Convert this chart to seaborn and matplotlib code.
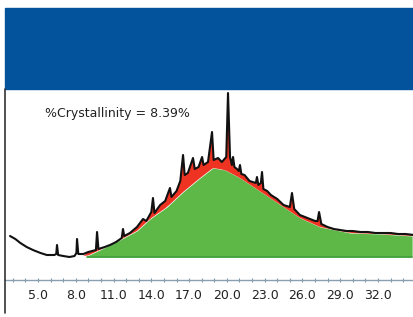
import numpy as np
import matplotlib
matplotlib.use("Agg")
import matplotlib.pyplot as plt
from matplotlib.lines import Line2D
from matplotlib.patches import Rectangle
import seaborn as sns

# measured diffraction pattern (2-theta, intensity)
two_theta = [2.78, 3.2, 3.6, 4.1, 4.6, 5.2, 5.7, 6.3, 6.45, 6.51, 6.6, 7.0, 7.5, 7.9,
             8.05, 8.1, 8.2, 8.6, 9.0, 9.6, 9.69, 9.8, 10.3, 10.72, 11.2, 11.65, 11.75,
             11.85, 12.3, 12.86, 13.34, 13.6, 14.0, 14.13, 14.25, 14.7, 15.1, 15.48,
             15.6, 16.0, 16.3, 16.52, 16.65, 16.9, 17.31, 17.45, 17.75, 18.03, 18.15,
             18.5, 18.82, 18.95, 19.3, 19.6, 19.95, 20.09, 20.25, 20.4, 20.49, 20.6,
             20.8, 20.95, 21.04, 21.15, 21.4, 21.8, 22.3, 22.39, 22.5, 22.7, 22.79,
             22.9, 23.2, 23.5, 24.0, 24.5, 25.0, 25.17, 25.35, 25.8, 26.2, 26.6, 27.0,
             27.2, 27.32, 27.5, 28.0, 28.5, 29.0, 29.5, 30.0, 30.6, 31.2, 31.8, 32.4,
             33.0, 33.6, 34.2, 34.86]
intensity = [21, 18, 14, 10, 7, 4, 2, 2, 3, 12, 2, 1, 0, 1,
             4, 18, 3, 3, 5, 7, 25, 8, 10, 12, 15, 19, 28,
             21, 24, 30, 38, 36, 45, 59, 44, 52, 56, 69,
             60, 66, 76, 102, 82, 84, 99, 88, 90, 100, 92,
             95, 125, 97, 99, 95, 100, 164, 100, 92, 100, 90,
             88, 86, 92, 83, 82, 76, 74, 80, 72, 74, 85,
             68, 66, 62, 58, 52, 50, 64, 48, 42, 40, 38, 36,
             36, 45, 33, 30, 28, 27, 26, 26, 25, 25, 24, 24,
             24, 23, 23, 22]

# amorphous hump
amorph_theta = [8.89, 9.92, 11.51, 12.86, 13.90, 15.25, 16.52, 17.87, 18.90, 19.85,
                21.04, 22.24, 23.43, 24.62, 25.81, 27.40, 29.78, 32.16, 34.71]
amorph_int = [1, 7, 17, 26, 38, 50, 65, 79, 89, 87,
              79, 69, 59, 49, 39, 30, 24, 23, 21]

tick_major = [5, 8, 11, 14, 17, 20, 23, 26, 29, 32]
label_text = "%Crystallinity = 8.39%"

sns.set_style("white")
plt.rcParams['font.family'] = ['DejaVu Sans']

fig = plt.figure(figsize=(4.14, 3.17), dpi=100)
W, H = 414, 317

# blue header band and left rule
fig.add_artist(Rectangle((5 / W, 1 - 89 / H), 1 - 5 / W, 81 / H,
                         transform=fig.transFigure, color="#02529c", zorder=0))
fig.add_artist(Line2D([5.5 / W, 5.5 / W], [1 - 313 / H, 1 - 89 / H],
                      transform=fig.transFigure, color="#333333", lw=1.2))

ax = fig.add_axes([5 / W, 1 - 280 / H, 1 - 5 / W, (280 - 89) / H])
ax.set_facecolor("none")

x = np.array(two_theta)
y = np.array(intensity)
ax_t = np.array(amorph_theta)
ax_i = np.array(amorph_int)

ax.fill_between(ax_t, 0, ax_i, color="#5db847", lw=0, zorder=1)
ax.plot([ax_t[0], ax_t[-1]], [0, 0], color="#3f9f3a", lw=1.2, zorder=1)
base = np.interp(x, ax_t, ax_i)
mask = (x >= ax_t[0])
ax.fill_between(x, base, y, where=mask & (y > base), interpolate=True,
                color="#ee3322", lw=0, zorder=2)
sns.lineplot(x=x, y=y, ax=ax, color="#111111", lw=1.5, zorder=3, sort=False)

ax.set_xlim(2.38, 34.86)
ax.set_ylim(-23, 168)
ax.set_xlabel("")
ax.set_ylabel("")
ax.set_yticks([])
ax.set_xticks(tick_major)
ax.set_xticklabels([f"{t:.1f}" for t in tick_major], fontsize=9, color="#222222")
ax.set_xticks(range(3, 35), minor=True)
ax.tick_params(axis="x", which="both", direction="inout", length=3.5, width=0.8,
               color="#7f97a8", pad=5, bottom=True)
for s in ["top", "left", "right"]:
    ax.spines[s].set_visible(False)
ax.spines["bottom"].set_color("#8aa0b0")
ax.spines["bottom"].set_linewidth(1.0)

fig.text(45 / W, 1 - 113 / H, label_text, fontsize=9, color="#222222",
         va="center", ha="left")

fig.savefig("out.png", dpi=100)
